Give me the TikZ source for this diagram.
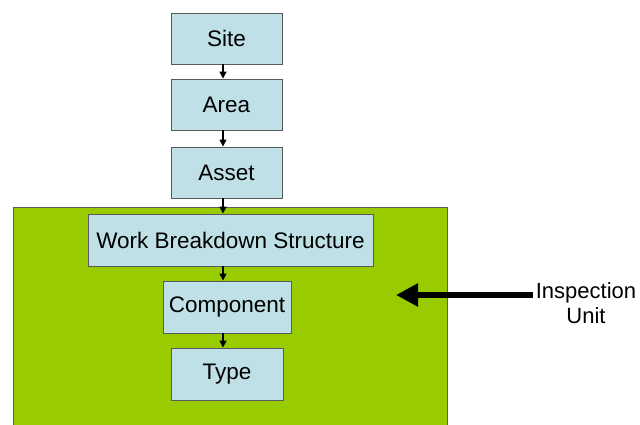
\documentclass[tikz,border=0pt]{standalone}
\usepackage{fontspec}
\setmainfont{Liberation Sans}
\usetikzlibrary{arrows.meta}
\definecolor{boxblue}{RGB}{190,224,230}
\definecolor{zonegreen}{RGB}{153,204,0}
\definecolor{edgegray}{RGB}{90,90,90}
\begin{document}
\begin{tikzpicture}[x=1pt,y=-1pt,
  level/.style={draw=edgegray,line width=0.9pt,fill=boxblue,inner sep=0pt,font=\fontsize{22.5}{26}\selectfont},
  link/.style={-{Triangle[length=7pt,width=7pt]},line width=1.4pt,black}]
\useasboundingbox (0,0) rectangle (640,425);
\clip (0,0) rectangle (640,425);
\fill[white] (0,0) rectangle (640,425);
\draw[draw=edgegray,line width=0.9pt,fill=zonegreen] (13,207) rectangle (447,440);
\node[level,minimum width=111pt,minimum height=51pt] (site) at (226.5,38.5) {Site};
\node[level,minimum width=111pt,minimum height=51pt] (area) at (226.5,104.5) {Area};
\node[level,minimum width=111pt,minimum height=51pt] (asset) at (226.5,172.5) {Asset};
\node[level,minimum width=285pt,minimum height=52pt] (wbs) at (230.5,240) {Work Breakdown Structure};
\node[level,minimum width=128pt,minimum height=52pt] (comp) at (227,307) {Component};
\node[level,minimum width=112pt,minimum height=52pt] (type) at (227,374) {Type};
\draw[link] (site.south -| 223,0) -- (area.north -| 223,0);
\draw[link] (area.south -| 223,0) -- (asset.north -| 223,0);
\draw[link] (asset.south -| 223,0) -- (wbs.north -| 223,0);
\draw[link] (wbs.south -| 223,0) -- (comp.north -| 223,0);
\draw[link] (comp.south -| 223,0) -- (type.north -| 223,0);
\node[font=\fontsize{22}{25}\selectfont,align=center,inner sep=2pt] (iu) at (586,303) {Inspection\\Unit};
\coordinate (tip) at (396,295);
\draw[-{Triangle[length=22pt,width=22pt]},line width=5.5pt] (iu.west |- tip) ++(-1,0) -- (tip);
\end{tikzpicture}
\end{document}
